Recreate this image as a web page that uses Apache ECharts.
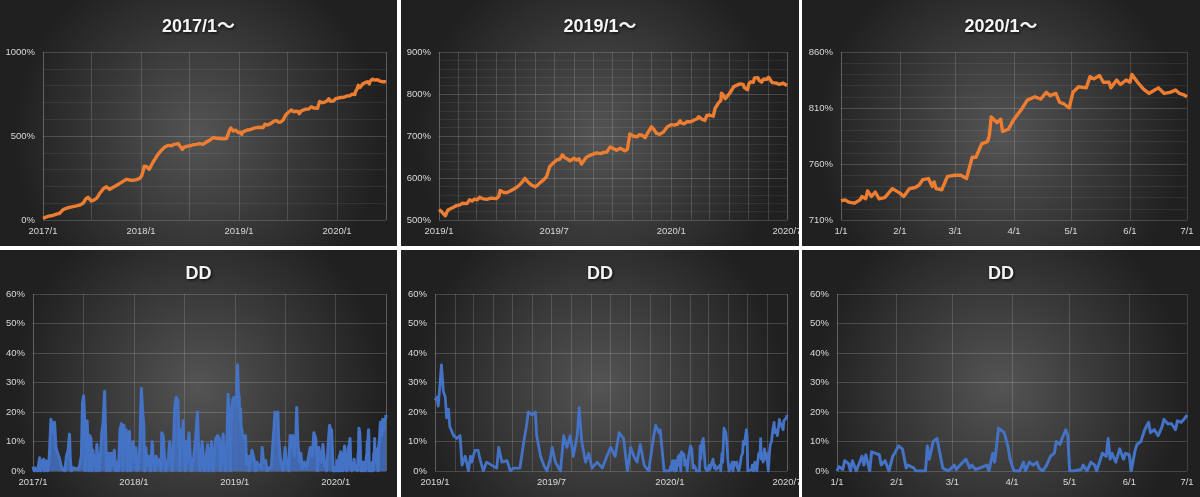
<!DOCTYPE html>
<html lang="ja">
<head>
  <meta charset="utf-8">
  <style>
    html, body { margin: 0; padding: 0; background: #fff; }
    #wrap { position: relative; width: 1200px; height: 497px; background: #fff; }
    .panel { position: absolute; overflow: hidden; }
  </style>
</head>
<body>
  <div id="wrap">
    <div class="panel" id="p1" style="left:0;top:0;width:397px;height:246px"></div>
    <div class="panel" id="p2" style="left:401px;top:0;width:398px;height:246px"></div>
    <div class="panel" id="p3" style="left:802px;top:0;width:398px;height:246px"></div>
    <div class="panel" id="p4" style="left:0;top:250px;width:397px;height:247px"></div>
    <div class="panel" id="p5" style="left:401px;top:250px;width:398px;height:247px"></div>
    <div class="panel" id="p6" style="left:802px;top:250px;width:398px;height:247px"></div>
  </div>

  <script type="text/javascript" src="https://fastly.jsdelivr.net/npm/echarts@6/dist/echarts.min.js"></script>
  <script type="text/javascript">
    // 累積損益（%）
    var equity2017 = [
      ['2017-01-01', 10], ['2017-01-07', 14], ['2017-01-13', 18], ['2017-01-19', 15], ['2017-01-26', 24],
      ['2017-02-01', 22], ['2017-02-07', 28], ['2017-02-14', 31], ['2017-02-20', 35], ['2017-02-26', 33],
      ['2017-03-04', 40], ['2017-03-10', 48], ['2017-03-17', 62], ['2017-03-23', 55], ['2017-03-29', 70],
      ['2017-04-04', 72], ['2017-04-10', 75], ['2017-04-17', 78], ['2017-04-23', 80], ['2017-04-29', 78],
      ['2017-05-05', 84], ['2017-05-11', 86], ['2017-05-18', 89], ['2017-05-24', 95], ['2017-05-30', 100],
      ['2017-06-04', 112], ['2017-06-09', 125], ['2017-06-18', 135], ['2017-06-24', 128], ['2017-06-30', 113],
      ['2017-07-04', 110], ['2017-07-09', 118], ['2017-07-14', 122], ['2017-07-19', 129], ['2017-07-25', 142],
      ['2017-07-31', 158], ['2017-08-06', 170], ['2017-08-13', 185], ['2017-08-19', 190], ['2017-08-25', 198],
      ['2017-08-31', 188], ['2017-09-06', 182], ['2017-09-12', 190], ['2017-09-19', 195], ['2017-09-25', 200],
      ['2017-10-01', 205], ['2017-10-07', 212], ['2017-10-14', 218], ['2017-10-20', 224], ['2017-10-26', 230],
      ['2017-11-01', 236], ['2017-11-08', 242], ['2017-11-14', 244], ['2017-11-20', 238], ['2017-11-26', 234],
      ['2017-12-02', 236], ['2017-12-08', 232], ['2017-12-15', 240], ['2017-12-21', 238], ['2017-12-27', 248]
    ];
    var equity2018 = [
      ['2018-01-03', 262], ['2018-01-09', 293], ['2018-01-13', 320], ['2018-01-17', 330], ['2018-01-22', 318],
      ['2018-01-26', 310], ['2018-01-31', 302], ['2018-02-05', 315], ['2018-02-10', 330], ['2018-02-15', 345],
      ['2018-02-21', 360], ['2018-02-27', 376], ['2018-03-06', 392], ['2018-03-12', 400], ['2018-03-18', 415],
      ['2018-03-24', 426], ['2018-03-30', 434], ['2018-04-06', 438], ['2018-04-12', 444], ['2018-04-18', 446],
      ['2018-04-25', 442], ['2018-05-03', 450], ['2018-05-11', 452], ['2018-05-19', 455], ['2018-05-26', 448],
      ['2018-06-04', 420], ['2018-06-09', 432], ['2018-06-13', 440], ['2018-06-19', 438], ['2018-06-25', 446],
      ['2018-07-04', 442], ['2018-07-14', 448], ['2018-07-20', 444], ['2018-07-26', 450], ['2018-08-02', 447],
      ['2018-08-08', 455], ['2018-08-14', 458], ['2018-08-20', 450], ['2018-08-26', 456], ['2018-09-02', 465],
      ['2018-09-08', 470], ['2018-09-14', 475], ['2018-09-21', 482], ['2018-09-27', 491], ['2018-10-03', 484],
      ['2018-10-09', 486], ['2018-10-15', 481], ['2018-10-21', 485], ['2018-10-27', 482], ['2018-11-03', 483],
      ['2018-11-09', 480], ['2018-11-15', 485], ['2018-11-20', 505], ['2018-11-25', 530], ['2018-12-01', 548],
      ['2018-12-05', 538], ['2018-12-10', 530], ['2018-12-15', 540], ['2018-12-20', 535], ['2018-12-29', 520]
    ];
    var equity2019 = [
      ['2019-01-01', 525], ['2019-01-03', 528], ['2019-01-05', 520], ['2019-01-08', 522], ['2019-01-11', 510],
      ['2019-01-15', 524], ['2019-01-19', 527], ['2019-01-23', 530], ['2019-01-28', 534], ['2019-02-03', 536],
      ['2019-02-07', 540], ['2019-02-10', 542], ['2019-02-14', 539], ['2019-02-18', 548], ['2019-02-22', 545],
      ['2019-02-26', 550], ['2019-03-02', 548], ['2019-03-06', 554], ['2019-03-10', 551], ['2019-03-17', 549],
      ['2019-03-24', 552], ['2019-04-01', 551], ['2019-04-05', 556], ['2019-04-07', 570], ['2019-04-12', 566],
      ['2019-04-17', 565], ['2019-04-23', 569], ['2019-04-30', 575], ['2019-05-05', 580], ['2019-05-11', 589],
      ['2019-05-16', 599], ['2019-05-20', 592], ['2019-05-24', 586], ['2019-05-28', 582], ['2019-06-01', 579],
      ['2019-06-05', 583], ['2019-06-09', 589], ['2019-06-14', 595], ['2019-06-19', 603], ['2019-06-24', 627],
      ['2019-06-29', 635], ['2019-07-05', 643], ['2019-07-10', 645], ['2019-07-14', 655], ['2019-07-18', 648],
      ['2019-07-22', 645], ['2019-07-26', 641], ['2019-08-01', 647], ['2019-08-05', 643], ['2019-08-09', 646],
      ['2019-08-13', 633], ['2019-08-17', 642], ['2019-08-21', 650], ['2019-08-28', 655], ['2019-09-06', 660],
      ['2019-09-12', 658], ['2019-09-17', 661], ['2019-09-22', 662], ['2019-09-27', 674], ['2019-10-02', 670],
      ['2019-10-07', 666], ['2019-10-13', 671], ['2019-10-20', 665], ['2019-10-24', 668], ['2019-10-28', 705],
      ['2019-11-02', 700], ['2019-11-08', 698], ['2019-11-12', 703], ['2019-11-16', 702], ['2019-11-21', 696],
      ['2019-11-26', 710], ['2019-12-01', 722], ['2019-12-05', 715], ['2019-12-09', 706], ['2019-12-14', 704],
      ['2019-12-20', 710], ['2019-12-26', 722]
    ];
    var equity2020 = [
      ['2020-01-01', 727], ['2020-01-03', 728], ['2020-01-05', 726], ['2020-01-08', 725], ['2020-01-11', 728],
      ['2020-01-12', 731], ['2020-01-14', 729], ['2020-01-15', 736], ['2020-01-17', 731], ['2020-01-19', 735],
      ['2020-01-21', 729], ['2020-01-24', 730], ['2020-01-26', 734], ['2020-01-28', 738], ['2020-02-01', 734],
      ['2020-02-03', 731], ['2020-02-06', 738], ['2020-02-09', 739], ['2020-02-11', 741], ['2020-02-13', 746],
      ['2020-02-16', 747], ['2020-02-18', 740], ['2020-02-19', 744], ['2020-02-20', 738], ['2020-02-23', 737],
      ['2020-02-26', 749], ['2020-03-01', 750], ['2020-03-04', 750], ['2020-03-07', 747], ['2020-03-10', 766],
      ['2020-03-12', 766], ['2020-03-15', 778], ['2020-03-18', 780], ['2020-03-19', 785], ['2020-03-20', 802],
      ['2020-03-21', 803], ['2020-03-23', 797], ['2020-03-25', 800], ['2020-03-26', 789], ['2020-03-29', 791],
      ['2020-04-01', 800], ['2020-04-05', 809], ['2020-04-08', 817], ['2020-04-12', 820], ['2020-04-15', 818],
      ['2020-04-18', 824], ['2020-04-20', 821], ['2020-04-23', 823], ['2020-04-25', 815], ['2020-04-27', 814],
      ['2020-04-30', 810], ['2020-05-02', 824], ['2020-05-05', 829], ['2020-05-09', 828], ['2020-05-11', 838],
      ['2020-05-13', 836], ['2020-05-16', 839], ['2020-05-18', 833], ['2020-05-21', 833], ['2020-05-22', 828],
      ['2020-05-25', 835], ['2020-05-27', 831], ['2020-05-30', 835], ['2020-06-01', 833], ['2020-06-02', 840],
      ['2020-06-05', 833], ['2020-06-08', 827], ['2020-06-11', 823], ['2020-06-14', 826], ['2020-06-16', 828],
      ['2020-06-19', 823], ['2020-06-22', 824], ['2020-06-25', 826], ['2020-06-27', 823], ['2020-06-29', 822],
      ['2020-07-01', 820]
    ];

    // ドローダウン（%）
    var dd2017 = [
      ['2017-01-01', 1.5], ['2017-01-05', 0], ['2017-01-10', 1], ['2017-01-18', 0], ['2017-01-25', 4.5],
      ['2017-01-29', 0], ['2017-02-03', 3], ['2017-02-08', 4], ['2017-02-12', 0], ['2017-02-18', 3.5],
      ['2017-02-23', 0], ['2017-02-28', 3], ['2017-03-05', 2.5], ['2017-03-07', 17.5], ['2017-03-12', 17],
      ['2017-03-16', 13], ['2017-03-20', 16.5], ['2017-03-25', 8], ['2017-03-31', 6], ['2017-04-06', 4.5],
      ['2017-04-12', 2], ['2017-04-18', 0.5], ['2017-04-26', 0], ['2017-05-02', 5], ['2017-05-08', 7],
      ['2017-05-13', 12.5], ['2017-05-16', 4], ['2017-05-20', 0], ['2017-05-24', 1], ['2017-06-01', 1],
      ['2017-06-13', 0.5], ['2017-06-19', 2], ['2017-06-25', 5], ['2017-06-29', 23], ['2017-07-03', 25.5],
      ['2017-07-06', 20], ['2017-07-09', 0], ['2017-07-12', 15], ['2017-07-16', 17], ['2017-07-19', 9],
      ['2017-07-22', 0], ['2017-07-25', 12], ['2017-07-30', 11], ['2017-08-02', 0], ['2017-08-06', 7],
      ['2017-08-09', 3], ['2017-08-14', 5], ['2017-08-17', 0], ['2017-08-20', 9], ['2017-08-24', 4],
      ['2017-08-28', 0], ['2017-09-02', 5], ['2017-09-07', 13], ['2017-09-12', 17], ['2017-09-17', 27],
      ['2017-09-21', 12], ['2017-09-24', 0], ['2017-09-28', 3], ['2017-10-02', 6], ['2017-10-06', 0],
      ['2017-10-11', 6], ['2017-10-17', 2], ['2017-10-22', 7], ['2017-10-27', 0], ['2017-11-01', 3],
      ['2017-11-06', 0], ['2017-11-12', 14], ['2017-11-17', 16], ['2017-11-22', 0], ['2017-11-26', 15.5],
      ['2017-11-30', 8], ['2017-12-04', 14], ['2017-12-08', 0], ['2017-12-12', 12], ['2017-12-16', 13.5],
      ['2017-12-20', 0], ['2017-12-24', 6], ['2017-12-29', 10]
    ];
    var dd2018 = [
      ['2018-01-04', 3], ['2018-01-08', 8], ['2018-01-12', 0], ['2018-01-18', 1], ['2018-01-23', 10],
      ['2018-01-28', 28], ['2018-02-02', 20], ['2018-02-06', 15], ['2018-02-09', 0], ['2018-02-13', 8],
      ['2018-02-18', 2], ['2018-02-24', 5], ['2018-03-02', 0], ['2018-03-08', 10], ['2018-03-13', 3],
      ['2018-03-18', 0], ['2018-03-23', 5], ['2018-03-29', 2], ['2018-04-05', 4], ['2018-04-09', 0],
      ['2018-04-12', 13], ['2018-04-17', 12], ['2018-04-22', 4], ['2018-04-27', 0], ['2018-05-02', 2],
      ['2018-05-06', 5], ['2018-05-11', 10], ['2018-05-16', 4], ['2018-05-20', 0], ['2018-05-24', 8],
      ['2018-05-29', 22], ['2018-06-03', 25], ['2018-06-09', 24], ['2018-06-13', 12], ['2018-06-16', 0],
      ['2018-06-19', 14], ['2018-06-24', 8], ['2018-06-28', 17], ['2018-07-02', 6], ['2018-07-06', 0],
      ['2018-07-09', 10], ['2018-07-13', 3], ['2018-07-19', 13], ['2018-07-24', 5], ['2018-07-28', 0],
      ['2018-08-02', 3], ['2018-08-06', 5], ['2018-08-13', 12], ['2018-08-19', 20], ['2018-08-23', 8],
      ['2018-08-27', 0], ['2018-08-31', 4], ['2018-09-05', 10], ['2018-09-10', 2], ['2018-09-14', 0],
      ['2018-09-19', 5], ['2018-09-25', 9], ['2018-09-29', 0], ['2018-10-03', 3], ['2018-10-09', 10],
      ['2018-10-14', 0], ['2018-10-18', 4], ['2018-10-24', 11], ['2018-10-31', 12], ['2018-11-06', 11],
      ['2018-11-10', 0], ['2018-11-14', 6], ['2018-11-20', 12.5], ['2018-11-24', 3], ['2018-11-28', 0],
      ['2018-12-02', 6], ['2018-12-08', 26], ['2018-12-12', 20], ['2018-12-16', 0], ['2018-12-19', 15],
      ['2018-12-24', 24], ['2018-12-29', 25]
    ];
    var dd2019 = [
      ['2019-01-01', 24], ['2019-01-04', 25], ['2019-01-06', 22], ['2019-01-09', 30], ['2019-01-11', 36],
      ['2019-01-14', 27], ['2019-01-17', 25], ['2019-01-19', 18], ['2019-01-22', 21], ['2019-01-24', 15],
      ['2019-01-30', 12], ['2019-02-04', 11], ['2019-02-09', 12], ['2019-02-12', 2], ['2019-02-17', 5],
      ['2019-02-22', 0], ['2019-02-25', 5], ['2019-02-27', 3], ['2019-03-04', 7], ['2019-03-09', 7],
      ['2019-03-12', 4], ['2019-03-17', 0], ['2019-03-22', 3], ['2019-03-30', 2], ['2019-04-07', 1],
      ['2019-04-10', 8], ['2019-04-15', 3], ['2019-04-23', 3.5], ['2019-04-28', 0], ['2019-05-03', 1],
      ['2019-05-13', 1], ['2019-05-19', 10], ['2019-05-23', 15], ['2019-05-26', 20], ['2019-06-01', 19],
      ['2019-06-06', 20], ['2019-06-08', 12], ['2019-06-14', 5], ['2019-06-19', 2], ['2019-06-24', 0],
      ['2019-06-29', 4], ['2019-07-02', 8], ['2019-07-07', 3], ['2019-07-15', 0], ['2019-07-20', 12],
      ['2019-07-25', 8], ['2019-07-30', 12], ['2019-08-04', 5], ['2019-08-10', 12], ['2019-08-13', 21.5],
      ['2019-08-17', 10], ['2019-08-23', 3], ['2019-08-28', 6], ['2019-09-02', 1], ['2019-09-10', 3],
      ['2019-09-18', 1], ['2019-09-25', 5], ['2019-10-01', 8], ['2019-10-08', 5], ['2019-10-14', 13],
      ['2019-10-21', 11], ['2019-10-27', 0], ['2019-11-01', 8], ['2019-11-06', 5], ['2019-11-11', 3],
      ['2019-11-16', 9], ['2019-11-22', 2], ['2019-11-29', 0], ['2019-12-07', 12], ['2019-12-10', 15.5],
      ['2019-12-15', 13], ['2019-12-17', 14], ['2019-12-23', 0]
    ];
    var dd2020 = [
      ['2020-01-01', 0], ['2020-01-02', 1.5], ['2020-01-04', 0.5], ['2020-01-05', 3.5], ['2020-01-07', 2.5],
      ['2020-01-08', 0], ['2020-01-09', 3.5], ['2020-01-11', 0], ['2020-01-12', 0], ['2020-01-14', 5],
      ['2020-01-15', 2], ['2020-01-16', 5.5], ['2020-01-18', 0], ['2020-01-19', 6.5], ['2020-01-21', 6],
      ['2020-01-23', 5.5], ['2020-01-24', 2], ['2020-01-26', 3.5], ['2020-01-28', 0], ['2020-01-30', 5],
      ['2020-01-31', 6], ['2020-02-02', 8.5], ['2020-02-04', 7.5], ['2020-02-05', 7], ['2020-02-06', 1],
      ['2020-02-07', 2], ['2020-02-10', 1], ['2020-02-11', 0], ['2020-02-16', 0], ['2020-02-17', 8.5],
      ['2020-02-18', 4], ['2020-02-20', 10], ['2020-02-22', 11], ['2020-02-23', 11.5], ['2020-02-25', 1],
      ['2020-02-28', 0], ['2020-03-02', 2], ['2020-03-03', 0.5], ['2020-03-05', 2], ['2020-03-08', 4],
      ['2020-03-10', 1], ['2020-03-11', 2], ['2020-03-13', 0.5], ['2020-03-15', 1], ['2020-03-16', 0.5],
      ['2020-03-19', 2], ['2020-03-20', 0], ['2020-03-22', 6], ['2020-03-23', 3], ['2020-03-25', 14.5],
      ['2020-03-28', 13], ['2020-03-30', 8], ['2020-03-31', 4], ['2020-04-02', 0], ['2020-04-05', 0],
      ['2020-04-07', 3], ['2020-04-08', 0], ['2020-04-10', 3], ['2020-04-12', 2], ['2020-04-14', 3],
      ['2020-04-15', 1], ['2020-04-17', 0], ['2020-04-19', 2], ['2020-04-21', 5], ['2020-04-23', 6],
      ['2020-04-24', 10], ['2020-04-26', 9], ['2020-04-27', 11], ['2020-04-29', 14], ['2020-04-30', 12],
      ['2020-05-01', 0], ['2020-05-03', 0], ['2020-05-07', 0.5], ['2020-05-08', 2], ['2020-05-10', 0],
      ['2020-05-12', 3], ['2020-05-14', 2], ['2020-05-15', 0], ['2020-05-18', 6], ['2020-05-20', 5],
      ['2020-05-21', 11], ['2020-05-22', 4], ['2020-05-23', 6], ['2020-05-25', 3], ['2020-05-27', 7.5],
      ['2020-05-29', 4], ['2020-05-30', 6], ['2020-06-01', 5.5], ['2020-06-02', 0], ['2020-06-04', 7],
      ['2020-06-05', 9], ['2020-06-07', 10], ['2020-06-09', 14], ['2020-06-11', 16.5], ['2020-06-12', 13],
      ['2020-06-14', 14], ['2020-06-16', 12], ['2020-06-18', 15], ['2020-06-19', 17.5], ['2020-06-21', 16],
      ['2020-06-23', 16], ['2020-06-25', 14], ['2020-06-26', 17], ['2020-06-28', 16.5], ['2020-06-30', 18],
      ['2020-07-01', 19]
    ];

    var equity = equity2017.concat(equity2018, equity2019, equity2020);
    var drawdown = dd2017.concat(dd2018, dd2019, dd2020);

    var DAY = 86400000;
    var FONT = '"Liberation Sans", "Noto Sans CJK JP", sans-serif';
    var ORANGE = '#ED7D31';
    var BLUE = '#4472C4';

    function ts(s) {
      return new Date(s + 'T00:00:00').getTime();
    }

    // 年/月 ラベル（指定した月だけ表示）
    function ymLabel(months) {
      return function (v) {
        var d = new Date(v);
        if (d.getDate() !== 1 || months.indexOf(d.getMonth()) < 0) return '';
        return d.getFullYear() + '/' + (d.getMonth() + 1);
      };
    }
    function mdLabel(v) {
      var d = new Date(v);
      return (d.getMonth() + 1) + '/' + d.getDate();
    }

    var panels = [
      { id: 'p1', title: '2017/1～', data: equity, color: ORANGE, width: 3.4, from: '2017-01-01', to: '2020-07-01',
        tickDays: 183, xLabel: ymLabel([0]), yMin: 0, yMax: 1000, yStep: 500, yMinor: 5, yOffset: 0,
        grid: { left: 43, right: 11, top: 52, bottom: 26 }, titleTop: 13 },
      { id: 'p2', title: '2019/1～', data: equity, color: ORANGE, width: 3.4, from: '2019-01-01', to: '2020-07-01',
        tickDays: 30, xLabel: ymLabel([0, 6]), yMin: 500, yMax: 900, yStep: 100, yMinor: 5, yOffset: 0,
        grid: { left: 38, right: 12, top: 52, bottom: 26 }, titleTop: 13 },
      { id: 'p3', title: '2020/1～', data: equity, color: ORANGE, width: 3.4, from: '2020-01-01', to: '2020-07-01',
        tickDays: 30, xLabel: mdLabel, yMin: 710, yMax: 860, yStep: 50, yMinor: 5, yOffset: 710,
        grid: { left: 39, right: 13, top: 52, bottom: 26 }, titleTop: 13 },
      { id: 'p4', title: 'DD', data: drawdown, color: BLUE, width: 3, area: 0.85, from: '2017-01-01', to: '2020-07-01',
        tickDays: 183, xLabel: ymLabel([0]), yMin: 0, yMax: 60, yStep: 10, yMinor: 0, yOffset: 0,
        grid: { left: 33, right: 11, top: 44, bottom: 26 }, titleTop: 10 },
      { id: 'p5', title: 'DD', data: drawdown, color: BLUE, width: 2.8, from: '2019-01-01', to: '2020-07-01',
        tickDays: 30, xLabel: ymLabel([0, 6]), yMin: 0, yMax: 60, yStep: 10, yMinor: 0, yOffset: 0,
        grid: { left: 34, right: 12, top: 44, bottom: 26 }, titleTop: 10 },
      { id: 'p6', title: 'DD', data: drawdown, color: BLUE, width: 3, from: '2020-01-01', to: '2020-07-01',
        tickDays: 30, xLabel: mdLabel, yMin: 0, yMax: 60, yStep: 10, yMinor: 0, yOffset: 0,
        grid: { left: 35, right: 13, top: 44, bottom: 26 }, titleTop: 10 }
    ];

    var charts = [];

    panels.forEach(function (p) {
      var chart = echarts.init(document.getElementById(p.id), null, { renderer: 'canvas' });
      var points = p.data.filter(function (d) {
        return d[0] >= p.from && d[0] <= p.to;
      }).map(function (d) {
        return [ts(d[0]), d[1] - p.yOffset];
      });
      var labelStyle = { color: '#d9d9d9', fontSize: 9.5, fontFamily: FONT };

      chart.setOption({
        animation: false,
        backgroundColor: {
          type: 'radial', x: 0.5, y: 0.55, r: 0.75,
          colorStops: [{ offset: 0, color: '#545454' }, { offset: 1, color: '#202020' }]
        },
        title: {
          text: p.title,
          left: 'center',
          top: p.titleTop,
          textStyle: {
            color: '#f4f4f4', fontSize: 18, fontWeight: 'bold', fontFamily: FONT,
            textShadowColor: 'rgba(0,0,0,0.85)', textShadowBlur: 3, textShadowOffsetX: 1, textShadowOffsetY: 1
          }
        },
        grid: Object.assign({ outerBoundsMode: 'none', containLabel: false }, p.grid),
        xAxis: {
          type: 'time',
          min: ts(p.from),
          max: ts(p.to),
          minInterval: p.tickDays * DAY,
          maxInterval: p.tickDays * DAY,
          axisLine: { show: false },
          axisTick: { show: false },
          splitLine: { show: true, lineStyle: { color: 'rgba(255,255,255,0.15)', width: 1 } },
          axisLabel: Object.assign({
            formatter: p.xLabel,
            margin: 7,
            showMinLabel: true,
            showMaxLabel: true,
            hideOverlap: false
          }, labelStyle)
        },
        yAxis: {
          type: 'value',
          min: p.yMin - p.yOffset,
          max: p.yMax - p.yOffset,
          interval: p.yStep,
          axisLine: { show: false },
          axisTick: { show: false },
          splitLine: { show: true, lineStyle: { color: 'rgba(255,255,255,0.17)', width: 1 } },
          minorTick: { show: false, splitNumber: p.yMinor || 5 },
          minorSplitLine: { show: p.yMinor > 0, lineStyle: { color: 'rgba(255,255,255,0.07)', width: 1 } },
          axisLabel: Object.assign({
            margin: 8,
            formatter: function (v) { return (v + p.yOffset) + '%'; }
          }, labelStyle)
        },
        series: [{
          type: 'line',
          data: points,
          showSymbol: false,
          clip: true,
          lineStyle: { color: p.color, width: p.width, join: 'round' },
          areaStyle: p.area ? { color: p.color, opacity: p.area } : undefined
        }]
      });
      charts.push(chart);
    });

    window.addEventListener('resize', function () {
      charts.forEach(function (c) { c.resize(); });
    });
  </script>
</body>
</html>
